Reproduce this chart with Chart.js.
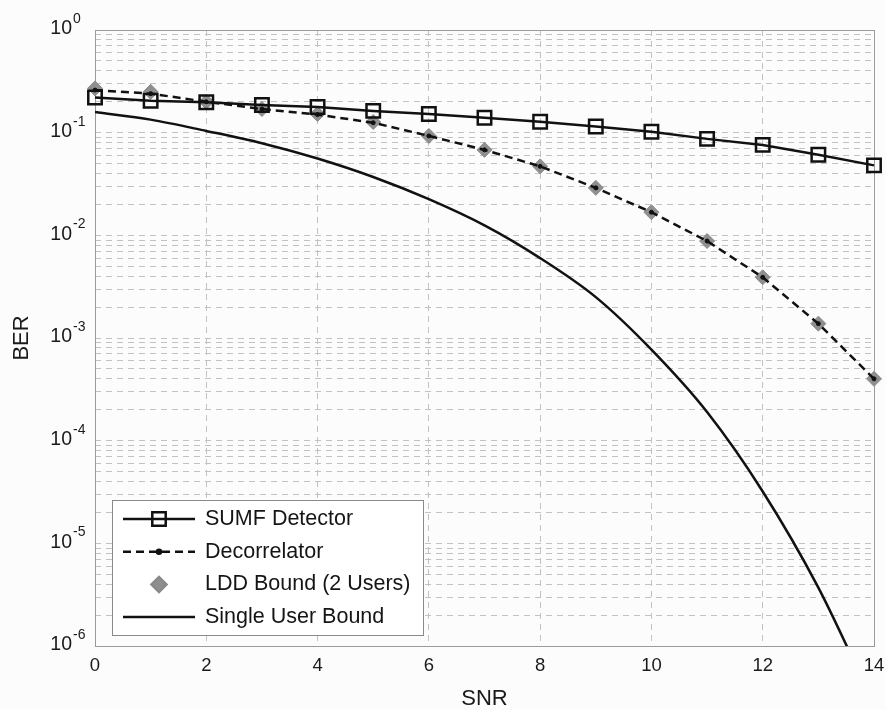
<!DOCTYPE html>
<html>
<head>
<meta charset="utf-8">
<script src="https://cdn.jsdelivr.net/npm/chart.js@4.4.0/dist/chart.umd.min.js"></script>
<style>
  html, body { margin: 0; padding: 0; background: #fcfcfc; }
  #wrap { width: 886px; height: 710px; }
</style>
</head>
<body>
<div id="wrap"><canvas id="berChart"></canvas></div>
<script>
// values (SNR in dB, BER on log axis)
const snr = [0, 1, 2, 3, 4, 5, 6, 7, 8, 9, 10, 11, 12, 13, 14];
const sumfBer = [0.22, 0.205, 0.198, 0.186, 0.178, 0.163, 0.152, 0.14, 0.128, 0.115, 0.102, 0.087, 0.076, 0.061, 0.048];
const decorrBer = [0.26, 0.24, 0.2, 0.17, 0.15, 0.125, 0.093, 0.068, 0.047, 0.029, 0.0168, 0.0088, 0.0039, 0.00138, 0.0004];
const lddBer = [0.27, 0.25, 0.2, 0.17, 0.152, 0.127, 0.093, 0.068, 0.047, 0.029, 0.0168, 0.0088, 0.0039, 0.00138, 0.0004];
const singleBer = [0.159, 0.134, 0.104, 0.079, 0.056, 0.037, 0.0225, 0.0125, 0.006, 0.0025, 0.00077, 0.00019, 0.000032, 0.0000037, 0.00000027];

const xTicks = [0, 2, 4, 6, 8, 10, 12, 14];
const yDecades = [0, -1, -2, -3, -4, -5, -6];

const FONT = "'Liberation Sans', Arial, sans-serif";
const GRID = '#c2c2c2';

// log grid: 1..9 x 10^e for each decade shown
const yGridValues = [];
yDecades.forEach(e => {
  for (let m = 1; m <= 9; m++) {
    const v = m * Math.pow(10, e);
    if (v <= 1) yGridValues.push(v);
  }
});

const yLabels = {
  id: 'yLabels',
  afterDraw(chart) {
    const ctx = chart.ctx, y = chart.scales.y;
    const xr = chart.chartArea.left - 23;
    ctx.save();
    ctx.fillStyle = '#1a1a1a';
    yDecades.forEach(e => {
      const py = y.getPixelForValue(Math.pow(10, e));
      ctx.font = '19.5px ' + FONT;
      ctx.textAlign = 'right';
      ctx.textBaseline = 'middle';
      ctx.fillText('10', xr, py - 1);
      ctx.font = '14px ' + FONT;
      ctx.textAlign = 'left';
      ctx.fillText(String(e), xr + 1, py - 11);
    });
    ctx.restore();
  }
};

const frame = {
  id: 'frame',
  beforeDatasetsDraw(chart) {
    const {left, top, width, height} = chart.chartArea;
    const ctx = chart.ctx;
    ctx.save();
    ctx.strokeStyle = '#9a9a9a';
    ctx.lineWidth = 1;
    ctx.strokeRect(left + 0.5, top + 0.5, width, height);
    ctx.restore();
  }
};

const boxLegend = {
  id: 'boxLegend',
  afterDraw(chart) {
    const ctx = chart.ctx, ca = chart.chartArea;
    const bx = ca.left + 17, by = ca.bottom - 146, bw = 311, bh = 135;
    ctx.save();
    ctx.fillStyle = '#ffffff';
    ctx.fillRect(bx, by, bw, bh);
    ctx.strokeStyle = '#8a8a8a';
    ctx.lineWidth = 1;
    ctx.strokeRect(bx + 0.5, by + 0.5, bw, bh);
    chart.data.datasets.forEach((ds, i) => {
      const cy = by + 19 + i * 32.7;
      const x0 = bx + 11, x1 = bx + 83, xm = (x0 + x1) / 2;
      if (ds.showLine !== false) {
        ctx.strokeStyle = ds.borderColor;
        ctx.lineWidth = ds.borderWidth;
        ctx.setLineDash(ds.borderDash || []);
        ctx.beginPath();
        ctx.moveTo(x0, cy);
        ctx.lineTo(x1, cy);
        ctx.stroke();
        ctx.setLineDash([]);
      }
      if (ds.pointRadius > 0) {
        ctx.strokeStyle = ds.pointBorderColor;
        ctx.fillStyle = ds.pointBackgroundColor;
        Chart.helpers.drawPoint(ctx, {
          pointStyle: ds.pointStyle, radius: ds.pointRadius,
          borderWidth: ds.pointBorderWidth, rotation: 0
        }, xm, cy);
      }
      ctx.fillStyle = '#151515';
      ctx.font = '21.5px ' + FONT;
      ctx.textAlign = 'left';
      ctx.textBaseline = 'middle';
      ctx.fillText(ds.label, bx + 93, cy);
    });
    ctx.restore();
  }
};

new Chart(document.getElementById('berChart'), {
  type: 'line',
  data: {
    datasets: [{
      label: 'SUMF Detector',
      data: snr.map((s, i) => ({x: s, y: sumfBer[i]})),
      borderColor: '#111', borderWidth: 2.5,
      pointStyle: 'rect', pointRadius: 9.5, pointBorderWidth: 2.5,
      pointBorderColor: '#111', pointBackgroundColor: 'rgba(0,0,0,0)',
      clip: false, order: 1
    }, {
      label: 'Decorrelator',
      data: snr.map((s, i) => ({x: s, y: decorrBer[i]})),
      borderColor: '#111', borderWidth: 2.5, borderDash: [8, 5],
      pointStyle: 'circle', pointRadius: 2, pointBorderWidth: 1,
      pointBorderColor: '#111', pointBackgroundColor: '#111',
      clip: false, order: 2
    }, {
      label: 'LDD Bound (2 Users)',
      data: snr.map((s, i) => ({x: s, y: lddBer[i]})),
      showLine: false,
      borderColor: '#8c8c8c', borderWidth: 1,
      pointStyle: 'rectRot', pointRadius: 7.5, pointBorderWidth: 1,
      pointBorderColor: '#8a8a8a', pointBackgroundColor: '#8f8f8f',
      clip: false, order: 3
    }, {
      label: 'Single User Bound',
      data: snr.map((s, i) => ({x: s, y: singleBer[i]})),
      borderColor: '#111', borderWidth: 2.5,
      pointRadius: 0, cubicInterpolationMode: 'monotone',
      order: 4
    }]
  },
  options: {
    responsive: true,
    maintainAspectRatio: false,
    animation: false,
    layout: { padding: { top: 30, right: 7, left: 0, bottom: 0 } },
    plugins: { legend: { display: false }, tooltip: { enabled: false } },
    scales: {
      x: {
        type: 'linear', min: 0, max: 14,
        afterBuildTicks: s => { s.ticks = xTicks.map(v => ({value: v})); },
        afterFit: s => { s.height = 64; s.paddingLeft = 0; s.paddingRight = 0; },
        grid: { color: GRID, drawTicks: false },
        border: { display: false, dash: [6, 5] },
        ticks: { color: '#1a1a1a', font: { family: FONT, size: 18.5 }, padding: 9, maxRotation: 0, autoSkip: false },
        title: { display: true, text: 'SNR', color: '#1a1a1a', font: { family: FONT, size: 22, lineHeight: 1 }, padding: 0 }
      },
      y: {
        type: 'logarithmic', min: 1e-6, max: 1,
        afterBuildTicks: s => { s.ticks = yGridValues.map(v => ({value: v})); },
        afterFit: s => { s.width = 95; s.paddingTop = 0; s.paddingBottom = 0; },
        grid: { color: GRID, drawTicks: false },
        border: { display: false, dash: [6, 5] },
        ticks: { display: false },
        title: { display: true, text: 'BER', color: '#1a1a1a', font: { family: FONT, size: 22, lineHeight: 1 }, padding: { top: 11, bottom: 0 } }
      }
    }
  },
  plugins: [frame, yLabels, boxLegend]
});
</script>
</body>
</html>
